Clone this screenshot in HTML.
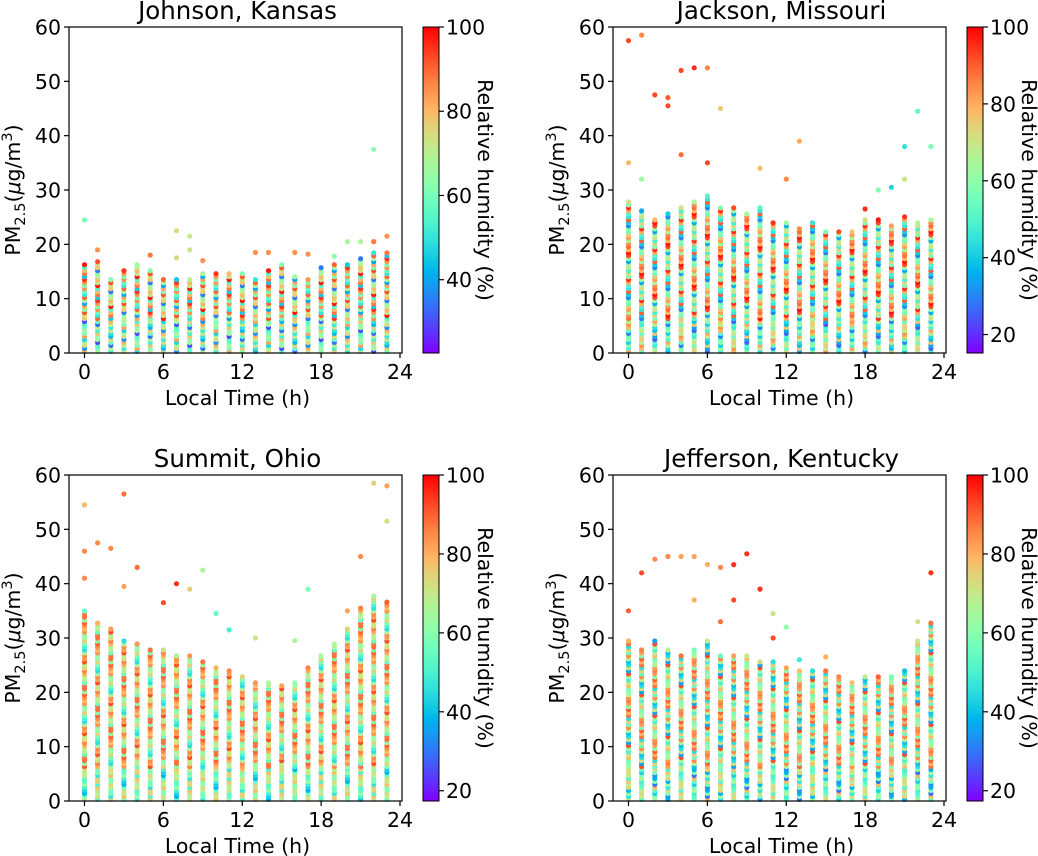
<!DOCTYPE html>
<html><head><meta charset="utf-8">
<style>
html,body{margin:0;padding:0;background:#fff;}
svg{display:block;font-family:"DejaVu Sans","Liberation Sans",sans-serif;}
</style></head>
<body>
<svg id="fig" width="1038" height="856" viewBox="0 0 1038 856" xmlns="http://www.w3.org/2000/svg">
<defs id="defs"></defs>
</svg>
<script>
// ---- data ----
const hours = [0,1,2,3,4,5,6,7,8,9,10,11,12,13,14,15,16,17,18,19,20,21,22,23];
const xTicks = [0,6,12,18,24];
const yTicks = [0,10,20,30,40,50,60];

const johnsonTops = [16.5,17,14,15.5,16.5,15.5,14,14,14,15,15,15,15,14,15.5,16.5,14.5,14,16,16.5,16.5,17.5,19,18.5];
const johnsonRH = [95,80,62,85,55,78,90,45,70,82,60,98,75,50,88,66,40,84,72,92,58,80,35,68];
const johnsonOut = [[0,24.5,60],[1,19,85],[7,22.5,75],[7,17.5,75],[8,21.5,72],[8,19,72],[5,18,88],[22,37.5,62],[13,18.5,85],[14,18.5,85],[16,18.5,85],[17,18.2,85],[20,20.5,68],[21,20.5,68],[22,20.5,88],[23,21.5,85],[9,17,85],[19,17.8,64]];
const johnsonCb = [40,60,80,100];

const jacksonTops = [28,26.5,25,26,27,28,29,27,27,26,27,24.5,24,23,24,22.5,22.5,22.5,25,25,23.5,25.5,24,25];
const jacksonRH = [95,62,82,45,70,88,30,58,92,76,50,66,85,40,72,98,55,80,35,64,90,48,78,60];
const jacksonOut = [[0,57.5,92],[1,58.5,85],[2,47.5,92],[3,47,90],[3,45.5,92],[4,52,92],[5,52.5,95],[6,52.5,85],[7,45,75],[4,36.5,88],[0,35,78],[13,39,80],[22,44.5,52],[21,38,45],[23,38,58],[6,35,92],[1,32,62],[10,34,78],[12,32,85],[20,30.5,42],[19,30,58],[18,26.5,95],[21,32,70]];
const jacksonCb = [20,40,60,80,100];

const summitTops = [35,33,32,30,29,28,28,27,27,26,25,24,23,22,22,21.5,22,25,27,29,32,36,38,37];
const summitRH = [85,62,88,70,58,90,80,66,84,55,92,75,60,86,45,78,68,82,64,88,72,50,84,66];
const summitOut = [[0,54.5,78],[0,46,85],[1,47.5,85],[2,46.5,85],[3,56.5,88],[4,43,88],[7,40,95],[8,39,75],[9,42.5,66],[10,34.5,55],[21,45,85],[22,58.5,75],[23,58,82],[23,51.5,72],[17,39,58],[3,39.5,82],[0,41,85],[6,36.5,92],[11,31.5,50],[13,30,70],[16,29.5,66],[20,35,82]];
const summitCb = [20,40,60,80,100];

const jeffersonTops = [30,28,30,28,27,28,30,27,27,27,26,26,25,24,24,24,23,22,23,23,23,24,30,33];
const jeffersonRH = [85,60,78,45,88,66,92,55,82,70,40,80,62,35,75,86,50,68,90,58,72,45,84,64];
const jeffersonOut = [[1,42,92],[2,44.5,85],[3,45,85],[4,45,82],[5,45,82],[6,43.5,80],[7,43,85],[8,43.5,95],[9,45.5,95],[10,39,95],[11,34.5,70],[12,32,62],[23,42,95],[5,37,80],[0,35,90],[8,37,92],[7,33,88],[11,30,92],[13,26,48],[15,26.5,80],[22,33,72]];
const jeffersonCb = [20,40,60,80,100];

// ---- helpers ----
const NS = "http://www.w3.org/2000/svg";
const fig = document.getElementById('fig');
function rainbow(t){
  t=Math.max(0,Math.min(1,t));
  let r=Math.abs(2*t-0.5), g=Math.sin(Math.PI*t), b=Math.cos(Math.PI*t/2);
  const c=v=>Math.round(Math.max(0,Math.min(1,v))*255);
  return `rgb(${c(r)},${c(g)},${c(b)})`;
}
function mk(tag, attrs, parent){
  const e=document.createElementNS(NS,tag);
  for(const k in attrs) e.setAttribute(k,attrs[k]);
  (parent||fig).appendChild(e);
  return e;
}
function txt(s, attrs, parent){ const e=mk('text',attrs,parent); e.textContent=s; return e; }

const FS=20.5;
function panel(id, title, ox, oy, tops, rhs, outs, cbTicks, cbMin){
  const g=mk('g',{});
  
  
  const L=ox+69, R=ox+402, T=oy+27, B=oy+353;
  const x0=ox+84.5, x24=ox+400;
  const xs=h=>x0+(x24-x0)*h/24;
  const ys=v=>B-(B-T)*v/60;
  const cmin=cbMin, cmax=100;
  const col=rh=>rainbow((rh-cmin)/(cmax-cmin));
  const pg=mk('g',{},g);
  
  
  hours.forEach((h,i)=>{
    const top=tops[i];
    let k=0;
    for(let v=0.3; v<=top; v+=0.55){
      const rh=rhs[(i+k*7)%rhs.length]*(v<6?0.85:1);
      const c=mk('circle',{cx:xs(h).toFixed(1),cy:ys(v).toFixed(1),r:2.6,fill:col(Math.min(100,rh))},pg);
      
      
      k++;
    }
  });
  outs.forEach(o=>{
    const c=mk('circle',{cx:xs(o[0]).toFixed(1),cy:ys(o[1]).toFixed(1),r:2.6,fill:col(o[2])},pg);
    
    
  });
  const fr=mk('rect',{x:L,y:T,width:R-L,height:B-T,fill:'none',stroke:'#000','stroke-width':1.2},g);
  
  
  xTicks.forEach(t=>{
    mk('line',{x1:xs(t),x2:xs(t),y1:B,y2:B+5,stroke:'#000','stroke-width':1.2},g);
    const e=txt(String(t),{x:xs(t),y:B+26,'font-size':FS,'text-anchor':'middle'},g);
    
    
  });
  yTicks.forEach(t=>{
    mk('line',{x1:L-5,x2:L,y1:ys(t),y2:ys(t),stroke:'#000','stroke-width':1.2},g);
    const e=txt(String(t),{x:L-8,y:ys(t)+7.5,'font-size':FS,'text-anchor':'end'},g);
    
    
  });
  const tt=txt(title,{x:(L+R)/2+2,y:oy+19,'font-size':24.5,'text-anchor':'middle'},g);
  
  
  const xl=txt('Local Time (h)',{x:(L+R)/2+2,y:B+52,'font-size':FS,'text-anchor':'middle'},g);
  
  
  const yl=mk('text',{x:0,y:0,'font-size':FS,'text-anchor':'middle',transform:`translate(${ox+20},${(T+B)/2}) rotate(-90)`},g);
  yl.innerHTML='PM<tspan font-size="14.5" dy="5">2.5</tspan><tspan dy="-5">(</tspan><tspan font-style="italic">μ</tspan>g/m<tspan font-size="14.5" dy="-8">3</tspan><tspan dy="8">)</tspan>';
  
  
  const defs=document.getElementById('defs');
  const gr=mk('linearGradient',{id:'grad-'+id,x1:0,y1:1,x2:0,y2:0},defs);
  for(let s=0;s<=20;s++){ mk('stop',{offset:s/20,'stop-color':rainbow(s/20)},gr); }
  const cbL=ox+423, cbR=ox+439;
  const cb=mk('rect',{x:cbL,y:T,width:cbR-cbL,height:B-T,fill:`url(#grad-${id})`,stroke:'#000','stroke-width':1},g);
  
  
  const cy=v=>B-(B-T)*(v-cmin)/(cmax-cmin);
  cbTicks.forEach(t=>{
    mk('line',{x1:cbR,x2:cbR+5,y1:cy(t),y2:cy(t),stroke:'#000','stroke-width':1.2},g);
    const e=txt(String(t),{x:cbR+7,y:cy(t)+7.5,'font-size':FS},g);
    
    
  });
  const cl=txt('Relative humidity (%)',{x:0,y:0,'font-size':FS,'text-anchor':'middle',transform:`translate(${ox+478},${(T+B)/2}) rotate(90)`},g);
  
  
}
panel('johnson','Johnson, Kansas',0,0,johnsonTops,johnsonRH,johnsonOut,johnsonCb,22.6);
panel('jackson','Jackson, Missouri',544,0,jacksonTops,jacksonRH,jacksonOut,jacksonCb,15.2);
panel('summit','Summit, Ohio',0,448,summitTops,summitRH,summitOut,summitCb,17.4);
panel('jefferson','Jefferson, Kentucky',544,448,jeffersonTops,jeffersonRH,jeffersonOut,jeffersonCb,17.4);
</script>
</body></html>
